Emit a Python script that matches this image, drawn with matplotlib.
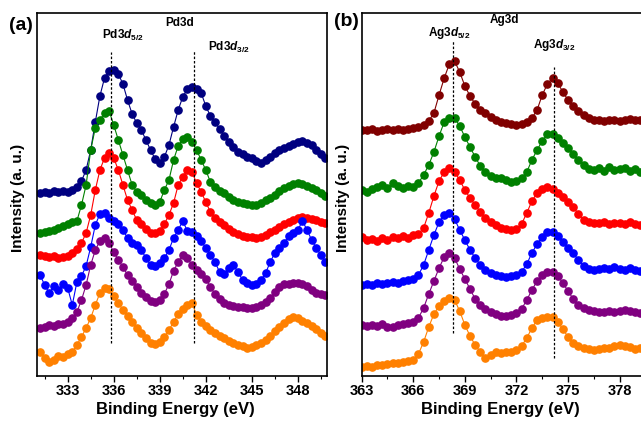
import numpy as np
import matplotlib
matplotlib.use('Agg')
import matplotlib.pyplot as plt
from matplotlib.ticker import MultipleLocator

plt.rcParams['font.family'] = ['Liberation Sans', 'DejaVu Sans']
plt.rcParams['font.weight'] = 'bold'
plt.rcParams['mathtext.fontset'] = 'custom'
plt.rcParams['mathtext.rm'] = 'Liberation Sans:bold'
plt.rcParams['mathtext.it'] = 'Liberation Sans:bold:italic'
plt.rcParams['mathtext.bf'] = 'Liberation Sans:bold'

# --- datos (intensidad en unidades arbitrarias, ya desplazadas) ---
energia_pd = np.round(np.arange(331.2, 349.81, 0.3), 1)
energia_ag = np.round(np.arange(363.0, 379.51, 0.3), 1)

pd_navy = [183, 184, 183, 185, 184, 185, 184, 186, 189, 195,
           206, 226, 254, 280, 298, 305, 306, 302, 292, 276,
           262, 253, 246, 236, 226, 217, 213, 219, 231, 249,
           266, 279, 287, 289, 287, 283, 270, 260, 254, 247,
           240, 234, 229, 224, 222, 219, 218, 215, 213, 216,
           219, 223, 226, 228, 230, 232, 234, 235, 233, 231,
           226, 222, 218]
pd_green = [143, 144, 145, 146, 148, 150, 152, 154, 155, 171,
            191, 226, 248, 256, 263, 265, 251, 236, 221, 206,
            191, 184, 181, 176, 173, 171, 174, 186, 196, 216,
            230, 237, 239, 234, 226, 216, 206, 194, 189, 185,
            183, 179, 176, 174, 173, 172, 171, 171, 173, 176,
            178, 181, 185, 188, 190, 192, 193, 192, 190, 188,
            186, 183, 180]
pd_red = [121, 120, 119, 120, 118, 119, 120, 123, 127, 133,
          143, 161, 186, 206, 218, 223, 218, 206, 191, 176,
          166, 156, 152, 147, 143, 143, 145, 152, 161, 173,
          191, 199, 206, 204, 193, 184, 174, 164, 158, 154,
          151, 147, 144, 142, 140, 139, 139, 138, 139, 141,
          144, 146, 149, 152, 154, 156, 158, 159, 158, 157,
          156, 154, 153]
pd_blue = [101, 91, 83, 90, 86, 92, 88, 71, 94, 100,
           110, 129, 151, 162, 163, 158, 155, 152, 146, 138,
           133, 131, 126, 118, 111, 110, 113, 118, 126, 138,
           146, 155, 145, 144, 140, 135, 128, 121, 114, 104,
           102, 108, 111, 104, 96, 93, 91, 92, 96, 103,
           114, 123, 128, 133, 140, 143, 146, 155, 146, 136,
           128, 121, 114]
pd_purple = [48, 49, 51, 50, 52, 52, 54, 58, 64, 76,
             91, 111, 126, 135, 138, 133, 124, 116, 109, 101,
             95, 89, 83, 79, 75, 74, 76, 82, 92, 105,
             114, 121, 118, 111, 106, 102, 97, 89, 82, 77,
             73, 71, 70, 69, 69, 68, 68, 69, 71, 74,
             78, 84, 89, 92, 92, 93, 93, 92, 90, 86,
             83, 82, 81]
pd_orange = [24, 18, 14, 16, 20, 19, 22, 24, 31, 39,
             48, 58, 71, 83, 88, 87, 80, 73, 66, 60,
             54, 48, 43, 38, 33, 32, 34, 39, 46, 54,
             62, 67, 71, 73, 61, 54, 50, 46, 43, 40,
             38, 35, 33, 31, 30, 28, 29, 31, 33, 36,
             40, 45, 49, 53, 57, 59, 58, 55, 53, 50,
             47, 43, 40]

ag_maroon = [246, 246, 247, 245, 246, 247, 246, 247, 246, 247,
             248, 249, 251, 255, 263, 281, 298, 312, 315, 304,
             290, 280, 272, 266, 263, 259, 256, 254, 253, 252,
             251, 252, 254, 258, 266, 281, 292, 298, 293, 284,
             276, 270, 265, 261, 258, 256, 256, 255, 256, 256,
             255, 256, 257, 256, 256, 255]
ag_green = [186, 184, 187, 189, 191, 188, 193, 190, 188, 190,
            189, 193, 201, 211, 224, 240, 254, 258, 258, 250,
            239, 229, 219, 210, 204, 200, 198, 198, 196, 194,
            195, 198, 204, 216, 226, 235, 242, 242, 238, 233,
            228, 222, 216, 211, 207, 206, 208, 205, 209, 206,
            207, 208, 205, 207, 204, 203]
ag_red = [139, 136, 137, 135, 138, 136, 139, 138, 140, 138,
          141, 142, 148, 163, 180, 195, 204, 208, 204, 196,
          186, 178, 171, 164, 158, 154, 151, 148, 147, 146,
          147, 152, 163, 175, 183, 187, 189, 187, 183, 179,
          174, 169, 162, 156, 154, 153, 153, 154, 152, 153,
          153, 152, 154, 152, 151, 151]
ag_blue = [91, 92, 91, 93, 92, 93, 94, 93, 95, 96,
           97, 101, 111, 126, 141, 154, 161, 163, 157, 146,
           136, 126, 118, 111, 106, 103, 101, 100, 99, 100,
           101, 104, 112, 123, 132, 139, 144, 144, 140, 134,
           128, 123, 116, 110, 107, 106, 107, 108, 107, 109,
           107, 106, 108, 106, 105, 104]
ag_purple = [51, 50, 51, 50, 52, 49, 49, 51, 52, 53,
             54, 58, 68, 82, 95, 108, 119, 123, 118, 107,
             97, 87, 77, 71, 67, 64, 62, 60, 60, 61,
             63, 67, 76, 86, 95, 101, 104, 104, 100, 93,
             85, 77, 71, 68, 66, 65, 64, 64, 65, 64,
             65, 66, 65, 64, 63, 63]
ag_orange = [9, 10, 9, 11, 11, 12, 13, 13, 14, 15,
             16, 22, 34, 49, 62, 70, 75, 78, 76, 65,
             51, 40, 31, 24, 18, 21, 24, 23, 24, 24,
             26, 30, 38, 48, 56, 58, 59, 59, 54, 47,
             39, 33, 30, 28, 27, 26, 27, 28, 28, 30,
             31, 30, 29, 27, 28, 27]

colores_pd = ['#000080', '#008000', '#ff0000', '#0000ff', '#800080', '#ff8000']
colores_ag = ['#800000', '#008000', '#ff0000', '#0000ff', '#800080', '#ff8000']

fig = plt.figure(figsize=(6.41, 4.21), dpi=100)
ax1 = fig.add_axes([37/641, 45/421, 290/641, 363/421])
ax2 = fig.add_axes([361.7/641, 45/421, 292.3/641, 363/421])


def dibujar(ax, x, series, colores):
    for y, c in zip(series, colores):
        ax.plot(x, y, '-', color=c, lw=0.8, marker='o', ms=5.2, mec=c, mfc=c)


dibujar(ax1, energia_pd, [pd_navy, pd_green, pd_red, pd_blue, pd_purple, pd_orange], colores_pd)
dibujar(ax2, energia_ag, [ag_maroon, ag_green, ag_red, ag_blue, ag_purple, ag_orange], colores_ag)

# lineas punteadas de los picos
ax1.vlines(335.8, 33, 324, colors='k', linestyles=(0, (2, 1.5)), lw=0.9)
ax1.vlines(341.2, 33, 326, colors='k', linestyles=(0, (2, 1.5)), lw=0.9)
ax2.vlines(368.3, 43, 336, colors='k', linestyles=(0, (2, 1.5)), lw=0.9)
ax2.vlines(374.2, 18, 309, colors='k', linestyles=(0, (2, 1.5)), lw=0.9)

ax1.text(340.3, 353, 'Pd3d', ha='center', va='center', fontsize=8.5)
ax1.text(336.6, 341, r'Pd3$d_{5/2}$', ha='center', va='center', fontsize=8.5)
ax1.text(343.5, 329, r'Pd3$d_{3/2}$', ha='center', va='center', fontsize=8.5)
ax2.text(371.3, 356, 'Ag3d', ha='center', va='center', fontsize=8.5)
ax2.text(368.1, 343, r'Ag3$d_{5/2}$', ha='center', va='center', fontsize=8.5)
ax2.text(374.2, 331, r'Ag3$d_{3/2}$', ha='center', va='center', fontsize=8.5)

ax1.set_xlim(331.0, 349.9)
ax2.set_xlim(363.0, 380.0)
ax1.xaxis.set_major_locator(MultipleLocator(3))
ax1.xaxis.set_minor_locator(MultipleLocator(1.5))
ax2.xaxis.set_major_locator(MultipleLocator(3))
ax2.xaxis.set_minor_locator(MultipleLocator(1.5))

for ax in (ax1, ax2):
    ax.set_ylim(0, 363)
    ax.set_yticks([])
    for s in ax.spines.values():
        s.set_linewidth(1.2)
    ax.tick_params(axis='x', which='major', direction='out', length=4, width=1, labelsize=10.5, pad=2)
    ax.tick_params(axis='x', which='minor', direction='out', length=2.5, width=0.8)
    for lab in ax.get_xticklabels():
        lab.set_fontweight('bold')
    ax.set_xlabel('Binding Energy (eV)', fontsize=12, fontweight='bold')
    ax.set_ylabel('Intensity (a. u.)', fontsize=11, fontweight='bold')

ax1.xaxis.set_label_coords(0.476, -0.072)
ax2.xaxis.set_label_coords(0.473, -0.072)
ax1.yaxis.set_label_coords(-0.042, 0.49)
ax2.yaxis.set_label_coords(-0.041, 0.49)

fig.text(21/641, 1 - 25/421, '(a)', fontsize=14, fontweight='bold', ha='center', va='center')
fig.text(346/641, 1 - 22/421, '(b)', fontsize=14, fontweight='bold', ha='center', va='center')

plt.savefig('out.png', dpi=100)
